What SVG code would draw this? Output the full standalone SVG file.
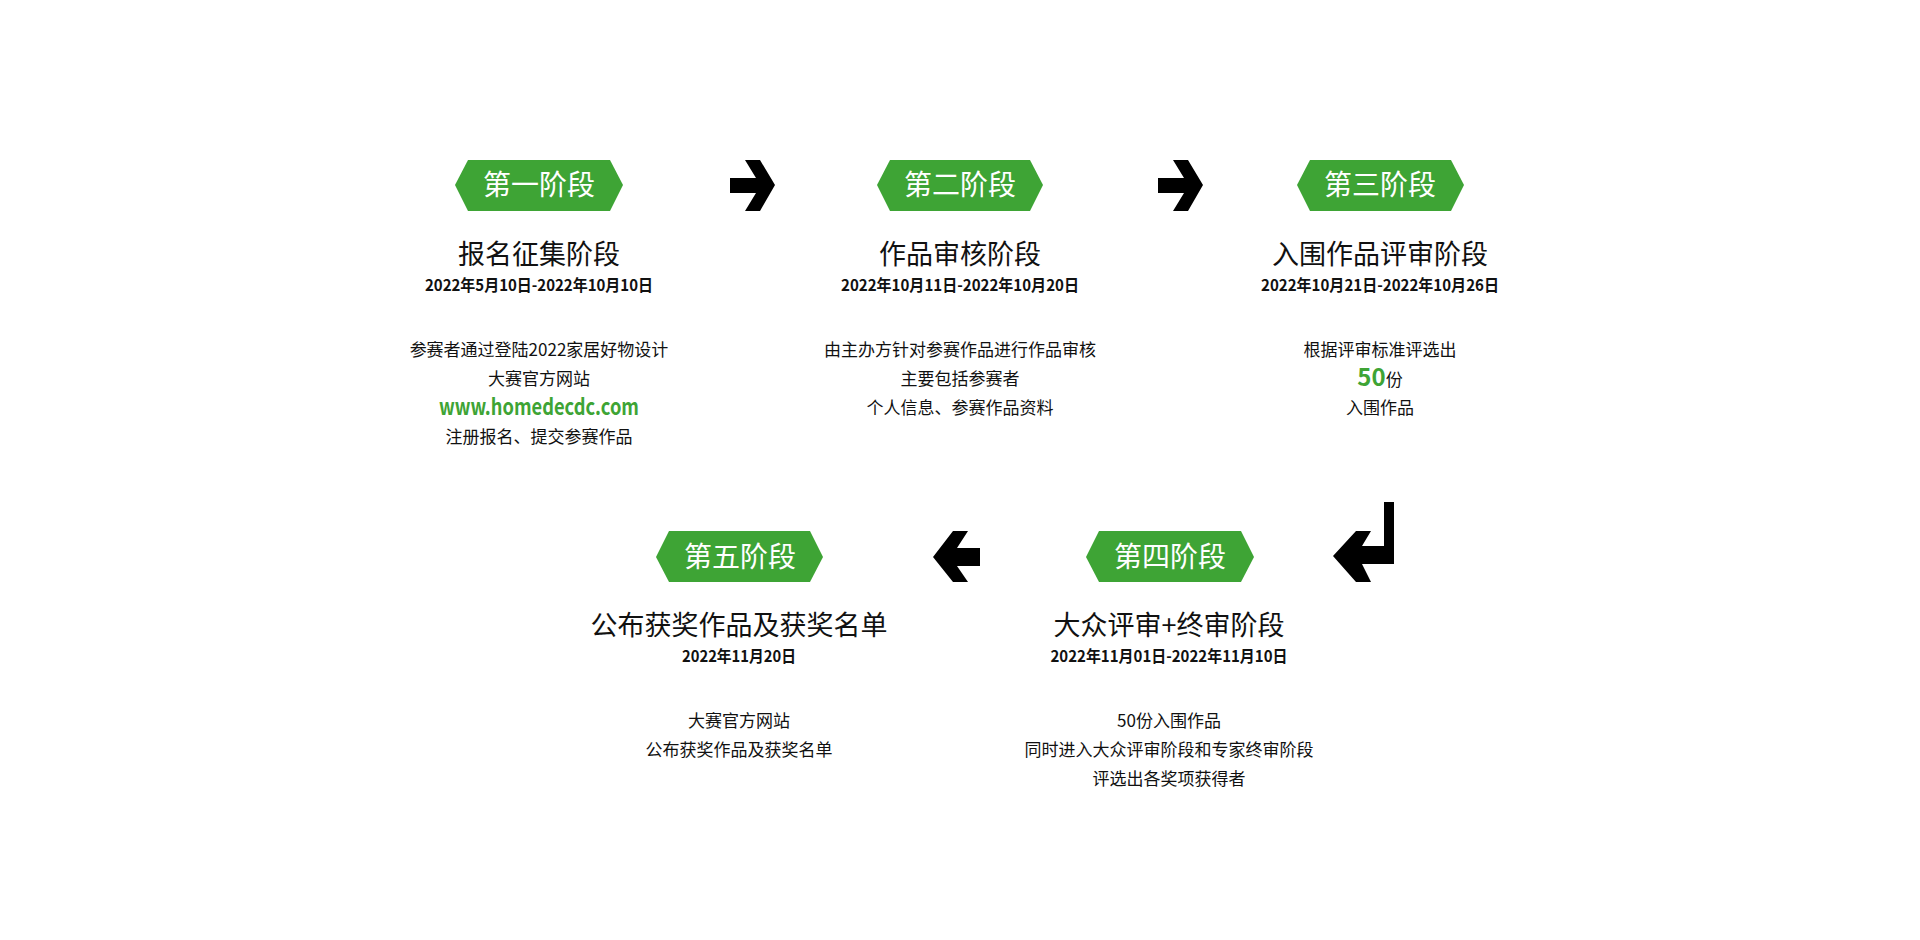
<svg xmlns="http://www.w3.org/2000/svg" width="1920" height="940" viewBox="0 0 1920 940">
<style>
.bg{fill:#fff}
.badge{fill:#3ea435}
.bt{fill:#fff;font-family:"Noto Sans CJK SC",sans-serif;font-size:28px;text-anchor:middle}
.ti{fill:#111;font-family:"Noto Sans CJK SC",sans-serif;font-size:27px;text-anchor:middle}
.dt{fill:#111;font-family:"Noto Sans CJK SC",sans-serif;font-size:16px;font-weight:bold;text-anchor:middle}
.ds{fill:#111;font-family:"Noto Sans CJK SC",sans-serif;font-size:17px;text-anchor:middle}
.gr{fill:#3ea435;font-family:"Noto Sans CJK SC",sans-serif;font-weight:bold;font-size:22px;text-anchor:middle}
.ar{fill:#000}
</style>
<rect class="bg" width="1920" height="940"/>
<g id="stage1">
<polygon class="badge" points="455,185 468,160 610,160 623,185 610,211 468,211"/>
<text class="bt" x="539" y="195">第一阶段</text>
<text class="ti" x="539" y="264">报名征集阶段</text>
<text class="dt" x="539" y="291" textLength="228" lengthAdjust="spacingAndGlyphs">2022年5月10日-2022年10月10日</text>
<text class="ds" x="539" y="356">参赛者通过登陆2022家居好物设计</text>
<text class="ds" x="539" y="385">大赛官方网站</text>
<text class="gr" x="539" y="415" textLength="200" lengthAdjust="spacingAndGlyphs">www.homedecdc.com</text>
<text class="ds" x="539" y="443">注册报名、提交参赛作品</text>
</g>
<g id="stage2">
<polygon class="badge" points="877,185 890,160 1030,160 1043,185 1030,211 890,211"/>
<text class="bt" x="960" y="195">第二阶段</text>
<text class="ti" x="960" y="264">作品审核阶段</text>
<text class="dt" x="960" y="291" textLength="238" lengthAdjust="spacingAndGlyphs">2022年10月11日-2022年10月20日</text>
<text class="ds" x="960" y="356">由主办方针对参赛作品进行作品审核</text>
<text class="ds" x="960" y="385">主要包括参赛者</text>
<text class="ds" x="960" y="414">个人信息、参赛作品资料</text>
</g>
<g id="stage3">
<polygon class="badge" points="1297,185 1310,160 1451,160 1464,185 1451,211 1310,211"/>
<text class="bt" x="1380" y="195">第三阶段</text>
<text class="ti" x="1380" y="264">入围作品评审阶段</text>
<text class="dt" x="1380" y="291" textLength="238" lengthAdjust="spacingAndGlyphs">2022年10月21日-2022年10月26日</text>
<text class="ds" x="1380" y="356">根据评审标准评选出</text>
<text x="1380" y="386" text-anchor="middle"><tspan class="gr" style="font-size:24px">50</tspan><tspan class="ds">份</tspan></text>
<text class="ds" x="1380" y="414">入围作品</text>
</g>
<g id="stage4">
<polygon class="badge" points="1086,557 1099,531 1241,531 1254,557 1241,582 1099,582"/>
<text class="bt" x="1170" y="567">第四阶段</text>
<text class="ti" x="1169" y="635">大众评审+终审阶段</text>
<text class="dt" x="1169" y="662" textLength="237" lengthAdjust="spacingAndGlyphs">2022年11月01日-2022年11月10日</text>
<text class="ds" x="1169" y="727">50份入围作品</text>
<text class="ds" x="1169" y="756">同时进入大众评审阶段和专家终审阶段</text>
<text class="ds" x="1169" y="785">评选出各奖项获得者</text>
</g>
<g id="stage5">
<polygon class="badge" points="656,557 669,531 810,531 823,557 810,582 669,582"/>
<text class="bt" x="740" y="567">第五阶段</text>
<text class="ti" x="739" y="635">公布获奖作品及获奖名单</text>
<text class="dt" x="739" y="662" textLength="114" lengthAdjust="spacingAndGlyphs">2022年11月20日</text>
<text class="ds" x="739" y="727">大赛官方网站</text>
<text class="ds" x="739" y="756">公布获奖作品及获奖名单</text>
</g>
<g id="connectors">
<polygon class="ar" points="730,178 756,178 745,160 760,160 775,185 760,211 745,211 756,193 730,193"/>
<polygon class="ar" points="1158,178 1184,178 1173,160 1188,160 1203,185 1188,211 1173,211 1184,193 1158,193"/>
<polygon class="ar" points="980,548 957,548 968,531 953,531 933,557 953,582 968,582 957,566 980,566"/>
<polygon class="ar" points="1384,502 1394,502 1394,564 1362,564 1371,582 1356,582 1333,556 1356,531 1371,531 1362,546 1384,546"/>
</g>
</svg>
